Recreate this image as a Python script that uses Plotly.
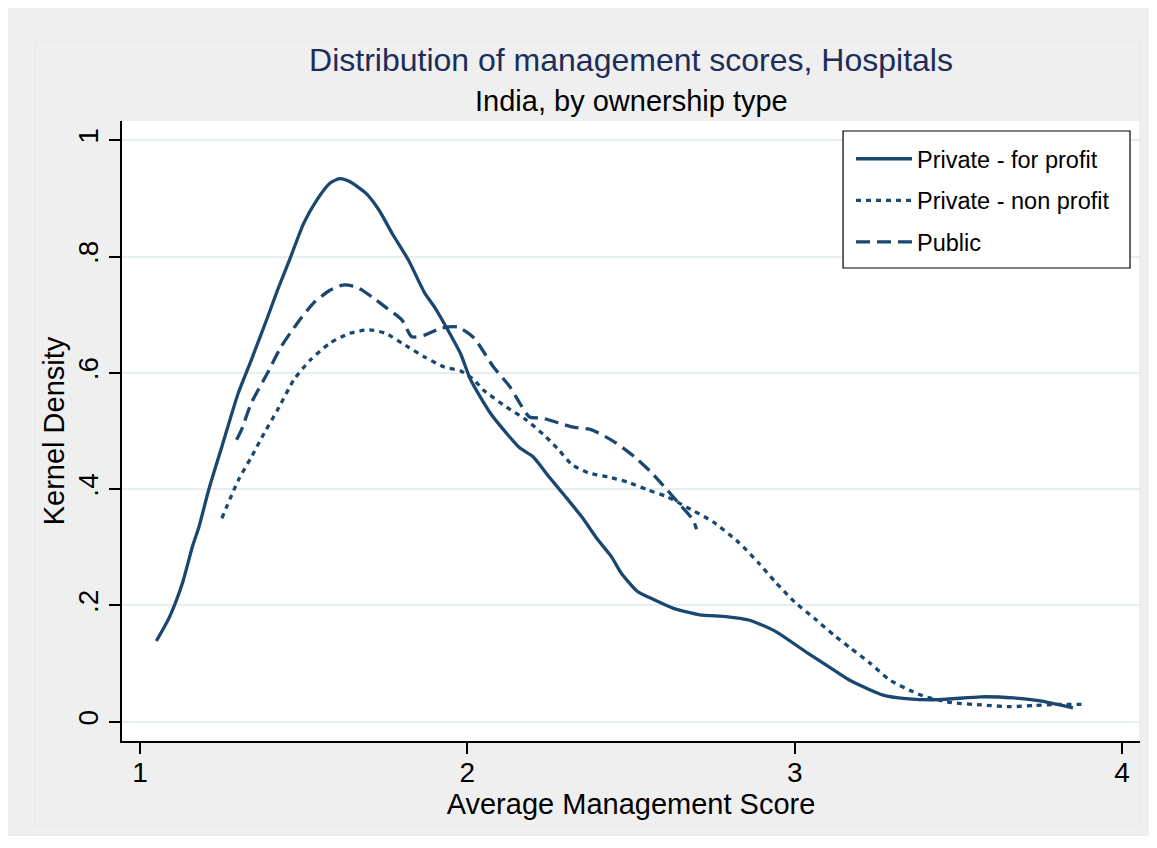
import plotly.graph_objects as go

# ---- data ----
for_profit_x = [1.05, 1.09, 1.13, 1.16, 1.18, 1.21, 1.25, 1.30, 1.34, 1.39, 1.42, 1.46, 1.50, 1.54,
                1.58, 1.61, 1.64, 1.69, 1.73, 1.77, 1.82, 1.87, 1.90, 1.94, 1.98, 2.01, 2.07, 2.12,
                2.16, 2.20, 2.25, 2.30, 2.35, 2.40, 2.44, 2.47, 2.52, 2.57, 2.63, 2.71, 2.79, 2.86,
                2.94, 3.04, 3.12, 3.17, 3.27, 3.34, 3.44, 3.57, 3.67, 3.75, 3.85]
for_profit_y = [0.139, 0.180, 0.239, 0.301, 0.335, 0.399, 0.473, 0.565, 0.622, 0.696, 0.742, 0.799,
                0.857, 0.897, 0.926, 0.934, 0.929, 0.909, 0.880, 0.840, 0.794, 0.737, 0.713, 0.674,
                0.632, 0.588, 0.531, 0.496, 0.471, 0.456, 0.421, 0.387, 0.352, 0.312, 0.284, 0.256,
                0.224, 0.210, 0.195, 0.184, 0.181, 0.175, 0.156, 0.118, 0.089, 0.071, 0.046, 0.040,
                0.038, 0.043, 0.041, 0.036, 0.024]

non_profit_x = [1.25, 1.30, 1.34, 1.38, 1.42, 1.47, 1.52, 1.58, 1.64, 1.70, 1.75, 1.82, 1.87, 1.93,
                1.98, 2.02, 2.05, 2.12, 2.18, 2.24, 2.28, 2.32, 2.37, 2.43, 2.49, 2.55, 2.61, 2.67,
                2.75, 2.83, 2.89, 2.94, 3.00, 3.06, 3.12, 3.17, 3.23, 3.29, 3.36, 3.40, 3.48, 3.57,
                3.66, 3.73, 3.80, 3.89]
non_profit_y = [0.350, 0.415, 0.455, 0.497, 0.536, 0.588, 0.622, 0.651, 0.668, 0.674, 0.668, 0.644,
                0.627, 0.610, 0.603, 0.588, 0.570, 0.541, 0.519, 0.490, 0.467, 0.442, 0.428, 0.421,
                0.412, 0.399, 0.387, 0.369, 0.344, 0.308, 0.273, 0.241, 0.206, 0.178, 0.149, 0.127,
                0.101, 0.072, 0.052, 0.043, 0.033, 0.029, 0.026, 0.028, 0.030, 0.030]

public_x = [1.295, 1.31, 1.34, 1.39, 1.43, 1.48, 1.53, 1.58, 1.62, 1.66, 1.71, 1.75, 1.80, 1.83,
            1.87, 1.92, 1.97, 2.02, 2.08, 2.13, 2.16, 2.19, 2.23, 2.32, 2.38, 2.45, 2.51, 2.56,
            2.61, 2.65, 2.69, 2.70]
public_y = [0.485, 0.502, 0.548, 0.600, 0.644, 0.685, 0.720, 0.742, 0.751, 0.748, 0.730, 0.713,
            0.691, 0.662, 0.665, 0.677, 0.679, 0.660, 0.610, 0.576, 0.548, 0.524, 0.522, 0.507,
            0.502, 0.481, 0.456, 0.430, 0.399, 0.373, 0.347, 0.331]

series_names = ["Private - for profit", "Private - non profit", "Public"]
x_tick_vals = [1, 2, 3, 4]
x_tick_text = ["1", "2", "3", "4"]
y_tick_vals = [0, 0.2, 0.4, 0.6, 0.8, 1]
y_tick_text = ["0", ".2", ".4", ".6", ".8", "1"]

NAVY = "#1a476f"
FONT = "Liberation Sans, Arial, Helvetica, sans-serif"

fig = go.Figure()
series = [
    (for_profit_x, for_profit_y, series_names[0], "solid"),
    (non_profit_x, non_profit_y, series_names[1], "5px,5px"),
    (public_x, public_y, series_names[2], "14px,7px"),
]
for i, (xs, ys, name, dash) in enumerate(series):
    fig.add_trace(go.Scatter(
        x=xs, y=ys, name=name, mode="lines", legendgroup=f"g{i}",
        line=dict(color=NAVY, width=3.3, dash=dash, shape="spline", smoothing=0.6),
    ))

fig.update_layout(
    template="none",
    width=1141, height=828,
    margin=dict(l=114, r=9, t=113, b=95, autoexpand=False),
    paper_bgcolor="#efefef",
    plot_bgcolor="white",
    font=dict(family=FONT, color="black"),
    title=dict(
        text="Distribution of management scores, Hospitals",
        x=0.5, xref="paper", xanchor="center",
        y=1 - 52 / 828, yref="container", yanchor="middle",
        font=dict(size=32, color="#1c2d5a", family=FONT),
    ),
    annotations=[dict(
        text="India, by ownership type", xref="paper", yref="paper",
        x=0.5, y=1 + (113 - 93) / 620, xanchor="center", yanchor="middle",
        showarrow=False, font=dict(size=29, color="black", family=FONT),
    )],
    xaxis=dict(
        range=[0.945, 4.055], tickvals=x_tick_vals, ticktext=x_tick_text,
        showgrid=False, zeroline=False, showline=True, linecolor="black", linewidth=1.5,
        ticks="outside", ticklen=11, tickwidth=1.5, tickcolor="black", ticklabelstandoff=-5,
        tickfont=dict(size=28, family=FONT), automargin=False,
        title=dict(text="Average Management Score", font=dict(size=29, family=FONT), standoff=4),
    ),
    yaxis=dict(
        range=[-0.033, 1.033], tickvals=y_tick_vals, ticktext=y_tick_text,
        showgrid=True, gridcolor="#e6eef0", gridwidth=1.5, zeroline=False,
        showline=True, linecolor="black", linewidth=1.5,
        ticks="outside", ticklen=11, tickwidth=1.5, tickcolor="black", tickangle=-90,
        tickfont=dict(size=28, family=FONT), automargin=False,
        title=dict(text="Kernel Density", font=dict(size=29, family=FONT), standoff=0),
    ),
    legend=dict(
        x=0.7161, xanchor="left", y=0.9742, yanchor="top",
        bgcolor="rgba(0,0,0,0)", borderwidth=0,
        font=dict(size=23.5, family=FONT), traceorder="grouped", tracegroupgap=8,
        itemwidth=56,
    ),
    shapes=[
        dict(type="rect", xref="paper", yref="paper", layer="below",
             x0=-0.0855, x1=1.0, y0=-0.1355, y1=1.1306,
             line=dict(color="#e4eaec", width=1), fillcolor="rgba(0,0,0,0)"),
        # legend frame
        dict(type="rect", xref="paper", yref="paper", layer="above",
             x0=0.7083, x1=0.9902, y0=0.7629, y1=0.9839,
             line=dict(color="black", width=1.2), fillcolor="white"),
    ],
)

fig.write_html("out.html")
